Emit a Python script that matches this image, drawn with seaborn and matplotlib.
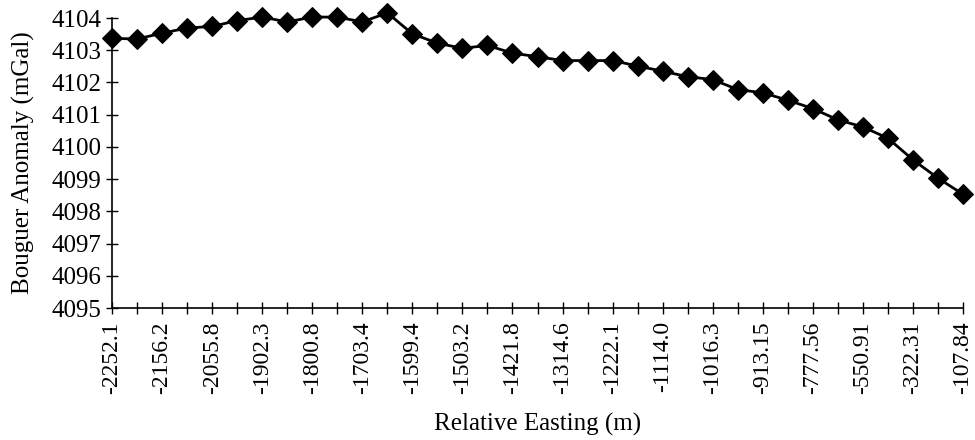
import numpy as np
import matplotlib
matplotlib.use("Agg")
import matplotlib.pyplot as plt
import seaborn as sns

# labelled eastings (every second station is labelled on the axis)
easting_labels = [
    "-2252.1", "-2156.2", "-2055.8", "-1902.3", "-1800.8", "-1703.4",
    "-1599.4", "-1503.2", "-1421.8", "-1314.6", "-1222.1", "-1114.0",
    "-1016.3", "-913.15", "-777.56", "-550.91", "-322.31", "-107.84",
]

# Bouguer anomaly at each station (mGal)
anomaly = [
    4103.37, 4103.35, 4103.53, 4103.69, 4103.74, 4103.92, 4104.03,
    4103.88, 4104.03, 4104.03, 4103.88, 4104.16, 4103.51, 4103.22,
    4103.06, 4103.15, 4102.91, 4102.80, 4102.68, 4102.68, 4102.68,
    4102.51, 4102.35, 4102.18, 4102.09, 4101.78, 4101.68, 4101.45,
    4101.19, 4100.84, 4100.62, 4100.27, 4099.60, 4099.03, 4098.53,
]

station = np.arange(len(anomaly))

sns.set_style("white")
plt.rcParams["font.family"] = ["Liberation Serif", "DejaVu Serif"]

fig = plt.figure(figsize=(9.75, 4.4), dpi=100)
ax = fig.add_axes([0.1149, 0.30, 0.8728, 0.659])

sns.lineplot(
    x=station,
    y=anomaly,
    ax=ax,
    color="black",
    linewidth=2,
    marker="D",
    markersize=10.5,
    markeredgecolor="black",
    markerfacecolor="black",
    clip_on=False,
    zorder=5,
)

ax.set_xlim(0, len(anomaly) - 1)
ax.set_ylim(4095, 4104)
ax.set_yticks(range(4095, 4105))

ax.set_xticks(station)
ax.set_xticklabels([
    easting_labels[i // 2] if i % 2 == 0 else "" for i in station
], rotation=90)

for side in ["top", "right"]:
    ax.spines[side].set_visible(False)
for side in ["left", "bottom"]:
    ax.spines[side].set_color("black")
    ax.spines[side].set_linewidth(1.2)

ax.tick_params(axis="both", which="major", bottom=True, left=True,
               direction="inout", length=9, width=1,
               color="black", labelcolor="black")
ax.tick_params(axis="y", pad=3, labelsize=18)
ax.tick_params(axis="x", pad=5, labelsize=17)

ax.set_xlabel("Relative Easting (m)", fontsize=18, color="black", labelpad=14)
ax.set_ylabel("Bouguer Anomaly (mGal)", fontsize=18, color="black", labelpad=12)
ax.grid(False)

fig.savefig("out.png", dpi=100)
